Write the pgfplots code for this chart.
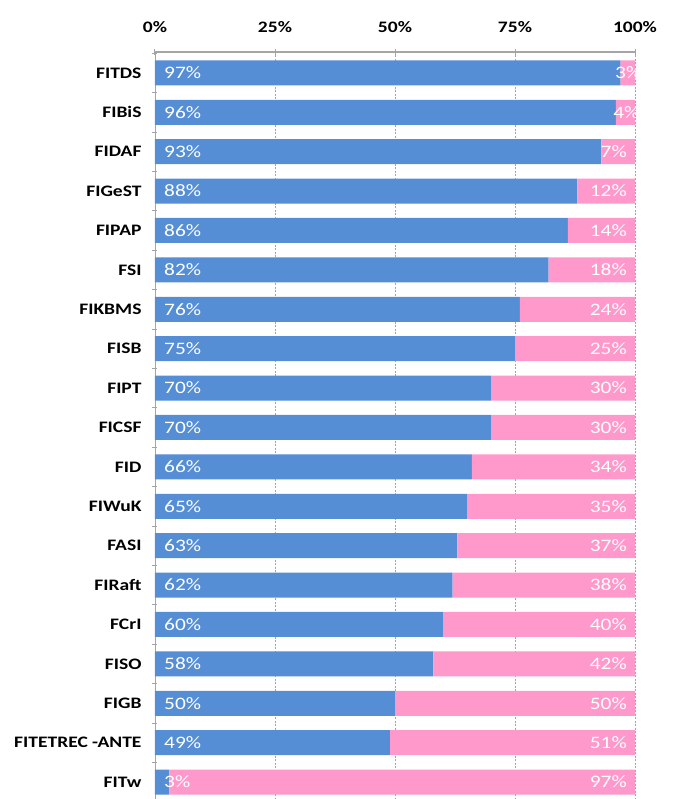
\documentclass[border=0pt]{standalone}
\usepackage{fontspec}
\setmainfont{Carlito}[FakeStretch=1.22]
\usepackage{pgfplots}
\usepackage{pgfplotstable}
\pgfplotsset{compat=1.18}
\definecolor{barblue}{RGB}{85,142,213}
\definecolor{barpink}{RGB}{255,153,204}
\definecolor{axgray}{RGB}{165,165,165}
\pgfplotstableread{
idx blue pink
0 97 3
1 96 4
2 93 7
3 88 12
4 86 14
5 82 18
6 76 24
7 75 25
8 70 30
9 70 30
10 66 34
11 65 35
12 63 37
13 62 38
14 60 40
15 58 42
16 50 50
17 49 51
18 3 97
}\data
\pgfplotstableread{
idx pink
2 7
3 12
4 14
5 18
6 24
7 25
8 30
9 30
10 34
11 35
12 37
13 38
14 40
15 42
16 50
17 51
18 97
}\pinklab
\begin{document}
\begin{tikzpicture}
\path[use as bounding box] (-155pt,0pt) rectangle (517pt,799pt);
\begin{axis}[
  at={(0pt,0pt)}, anchor=south west,
  scale only axis, width=480pt, height=747pt,
  xmin=0, xmax=100, ymin=-0.53, ymax=18.43,
  y dir=reverse,
  axis x line=top, axis y line=left,
  axis line style={-, axgray},
  x axis line style={line width=1.6pt, axgray},
  xtick={0,25,50,75,100},
  xticklabel={\pgfmathprintnumber{\tick}\%},
  /pgf/number format/assume math mode=true,
  xticklabel style={font=\fontsize{16}{19}\selectfont\bfseries, yshift=13pt},
  major tick length=6pt,
  x tick style={axgray, line width=1pt},
  tick align=center,
  xmajorgrids,
  grid style={axgray, dash pattern=on 2pt off 1.5pt, line width=0.8pt},
  ytick={0,...,18},
  yticklabels={FITDS,FIBiS,FIDAF,FIGeST,FIPAP,FSI,FIKBMS,FISB,FIPT,FICSF,FID,FIWuK,FASI,FIRaft,FCrI,FISO,FIGB,{FITETREC -ANTE},FITw},
  yticklabel style={font=\fontsize{16}{19}\selectfont\bfseries, xshift=-7pt},
  y tick style={draw=none},
  minor ytick={-0.5,0.5,...,18.5},
  minor y tick style={draw=axgray, line width=0.8pt},
  minor tick length=5pt,
  clip=false,
]
\addplot[xbar stacked, bar shift=0pt, bar width=25pt, fill=barblue, draw=none] table[x=blue, y=idx] {\data};
\addplot[xbar stacked, bar shift=0pt, bar width=25pt, fill=barpink, draw=none] table[x=pink, y=idx] {\data};
% blue labels, inside base
\addplot[sharp plot, stack plots=false, draw=none, mark=none,
  nodes near coords={\pgfmathprintnumber{\pgfplotspointmeta}\%},
  point meta=explicit,
  every node near coord/.append style={anchor=west, text=white, font=\fontsize{17.5}{20}\selectfont, xshift=9pt, inner sep=0pt}
  ] table[x expr=0, y=idx, meta=blue] {\data};
% pink labels, inside end
\addplot[sharp plot, stack plots=false, draw=none, mark=none,
  nodes near coords={\pgfmathprintnumber{\pgfplotspointmeta}\%},
  point meta=explicit,
  every node near coord/.append style={anchor=east, text=white, font=\fontsize{17.5}{20}\selectfont, xshift=-8pt, inner sep=0pt}
  ] table[x expr=100, y=idx, meta=pink] {\pinklab};
% pink labels, centred in the small segments
\addplot[sharp plot, stack plots=false, draw=none, mark=none,
  nodes near coords, point meta=explicit symbolic,
  every node near coord/.append style={anchor=center, text=white, font=\fontsize{17.5}{20}\selectfont, inner sep=0pt}
  ] coordinates {(98.6,0) [3\%] (98.2,1) [4\%]};
\end{axis}
\end{tikzpicture}
\end{document}
